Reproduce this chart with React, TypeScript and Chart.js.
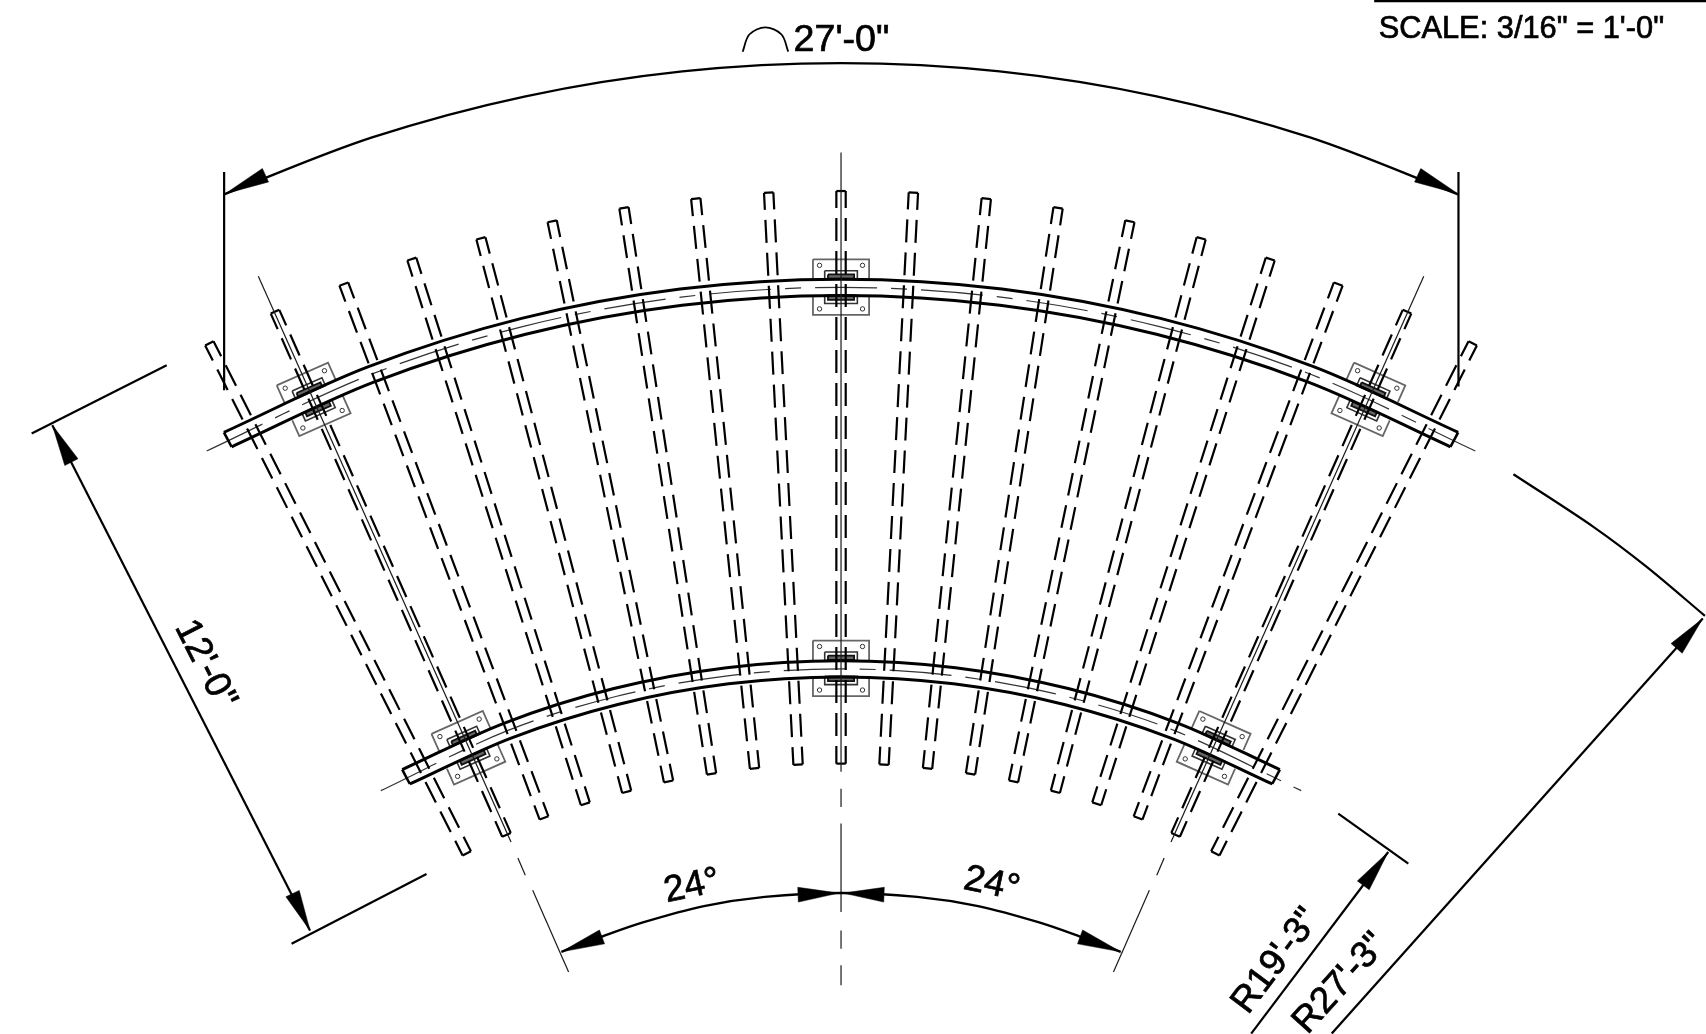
import React, { useEffect, useRef } from "react";
import { Chart, registerables } from "chart.js";

Chart.register(...registerables);

// Drawing values (axis units: 1568 x 950 picture grid)
const memberTopX = [192.4, 252.8, 316, 378.5, 442, 507.5, 573.5, 639.5, 706.5, 773, 839.5, 906.5, 972.5, 1038.5, 1104, 1167.5, 1230, 1293.2, 1353.6];
const memberTopY = [315.4, 286.4, 261, 238, 219, 203.3, 191, 182.5, 177, 175.5, 177, 182.5, 191, 203.3, 219, 238, 261, 286.4, 315.4];
const memberBottomX = [429, 465.5, 500, 538, 576, 614.5, 654, 693.5, 733.5, 773, 812.5, 852.5, 892, 931.5, 970, 1008, 1046, 1080.5, 1117];
const memberBottomY = [784, 767, 751.5, 738.5, 727.5, 718, 711, 706, 702.5, 701.6, 702.5, 706, 711, 718, 727.5, 738.5, 751.5, 767, 784];

const upperRailTopX = [205.8, 338.1, 479.4, 625.1, 773, 920.9, 1066.6, 1207.9, 1340.2];
const upperRailTopY = [397.2, 337.1, 292.5, 265.5, 256.5, 265.5, 292.5, 337.1, 397.2];
const upperRailBottomX = [212.9, 343.5, 483.1, 626.9, 773, 919.1, 1062.9, 1202.5, 1333.1];
const upperRailBottomY = [410.5, 351.1, 307.1, 280.4, 271.5, 280.4, 307.1, 351.1, 410.5];
const upperRailAxisX = [190, 340.8, 481.2, 626, 773, 920, 1064.8, 1205.2, 1356];
const upperRailAxisY = [414.3, 344.1, 299.8, 273, 264, 273, 299.8, 344.1, 414.3];

const lowerRailTopX = [369.7, 463.7, 564.2, 667.8, 773, 878.2, 981.8, 1082.3, 1176.3];
const lowerRailTopY = [707.1, 664.3, 632.6, 613.4, 607, 613.4, 632.6, 664.3, 707.1];
const lowerRailBottomX = [376.7, 469.1, 567.8, 669.7, 773, 876.3, 978.2, 1076.9, 1169.3];
const lowerRailBottomY = [720.3, 678.3, 647.2, 628.3, 622, 628.3, 647.2, 678.3, 720.3];
const lowerRailAxisX = [350, 466.4, 566, 668.7, 773, 877.3, 980, 1079.6, 1196];
const lowerRailAxisY = [726.4, 671.3, 639.9, 620.9, 614.5, 620.9, 639.9, 671.3, 726.4];

const plateX = [288.3, 773, 1257.7, 430.5, 773, 1115.5];
const plateY = [366.9, 263.8, 366.9, 687, 614, 687];
const plateAngle = [-24, 0, 24, -24, 0, 24];

const arcDimX = [206, 342, 483, 627.2, 773, 918.8, 1063, 1204, 1340];
const arcDimY = [178.6, 126.3, 88.5, 65.6, 58, 65.6, 88.5, 126.3, 178.6];
const angleDimX = [516, 553.3, 590.9, 647, 703, 773, 843, 899, 955.1, 992.7, 1030];
const angleDimY = [874.5, 860.5, 847.5, 832.5, 824, 820.5, 824, 832.5, 847.5, 860.5, 874.5];
const radiusTickX = [1391, 1464.5, 1513.5, 1567];
const radiusTickY = [435.7, 484, 520.8, 565.8];
const arcSymbolX = [682.6, 688.7, 703.3, 718.3, 724.5];
const arcSymbolY = [47.5, 31.7, 25.1, 31.7, 47.5];

// [x1, y1, x2, y2]
const dimensionLines = [
  [206, 158, 206, 358.5],
  [1340.5, 158, 1340.5, 355],
  [29.1, 398.3, 153.2, 335.5],
  [268, 867, 392, 803],
  [48.1, 390.6, 284.9, 854.8],
  [1230, 747.5, 1294.4, 793.5],
  [1275.9, 782.8, 1150, 949.6],
  [1565, 568.3, 1224, 949.6],
  [1263, 1, 1568, 1],
];
const thinLines = [
  [773, 140, 773, 709],
  [773, 724.6, 773, 741.4],
  [773, 756.7, 773, 837.9],
  [773, 854.8, 773, 871.6],
  [773, 886.9, 773, 905.3],
  [237.4, 253.7, 469.7, 773.6],
  [476, 788.3, 482.8, 804.2],
  [489.6, 818, 522.6, 893],
  [1308.6, 253.7, 1076.3, 773.6],
  [1070, 788.3, 1063.2, 804.2],
  [1056.4, 818, 1023.4, 893],
];

const arrowTipX = [207, 1340, 48.1, 284.9, 1275.9, 1565, 516, 771, 775, 1030];
const arrowTipY = [178, 178, 390.6, 854.8, 782.8, 568.3, 874.5, 820.5, 820.5, 874.5];
const arrowBaseX = [244, 1303, 65.6, 268.9, 1253, 1541, 553.3, 733.5, 812.5, 992.7];
const arrowBaseY = [161, 161, 424.6, 821, 813.4, 595.7, 860.8, 822, 822, 860.8];

const labelText = ["27'-0\"", "SCALE: 3/16\" = 1'-0\"", "12'-0\"", "24°", "24°", "R19'-3\"", "R27'-3\""];
const labelX = [773.4, 1398.3, 188.5, 636, 911.5, 1173, 1232];
const labelY = [37, 27.5, 610.5, 814.4, 812.5, 883, 903.6];
const labelAngle = [0, 0, 63, -12, 12, -53, -48];
const labelPx = [37.6, 30.8, 37, 37, 37, 37, 37];

const X_MAX = 1568;
const Y_MAX = 950;
const INK = "#000000";

type P = { x: number; y: number };
const zip = (xs: number[], ys: number[]): P[] => xs.map((x, i) => ({ x, y: ys[i] }));
const seg = (s: number[]): P[] => [{ x: s[0], y: s[1] }, { x: s[2], y: s[3] }];

function line(data: P[], o: any = {}) {
  return {
    data,
    showLine: true,
    pointRadius: 0,
    borderColor: o.color ?? INK,
    borderWidth: o.width ?? 2,
    borderDash: o.dash ?? [],
    borderDashOffset: o.offset ?? 0,
    tension: o.tension ?? 0,
    fill: o.bg ? "shape" : false,
    backgroundColor: o.bg ?? "transparent",
    borderCapStyle: "butt",
    borderJoinStyle: "miter",
  };
}

function local(i: number, u: number, v: number): P {
  const a = (plateAngle[i] * Math.PI) / 180;
  return {
    x: plateX[i] + u * Math.cos(a) - v * Math.sin(a),
    y: plateY[i] + u * Math.sin(a) + v * Math.cos(a),
  };
}
function localRect(i: number, u1: number, v1: number, u2: number, v2: number): P[] {
  return [local(i, u1, v1), local(i, u2, v1), local(i, u2, v2), local(i, u1, v2), local(i, u1, v1)];
}

function buildDatasets() {
  const back: any[] = [];
  const tension = 0.33;

  // plates
  plateX.forEach((_, i) => {
    back.push(line(localRect(i, -25.8, -25.5, 25.8, 25.5), { color: "#666666", width: 1.8 }));
    back.push({
      data: [local(i, -19.75, -20), local(i, 19.75, -20), local(i, -19.75, 20), local(i, 19.75, 20)],
      showLine: false,
      pointRadius: 2.2,
      pointBackgroundColor: "#ffffff",
      pointBorderColor: "#333333",
      pointBorderWidth: 1,
    });
  });

  // white rail bodies
  const body = (tx: number[], ty: number[], bx: number[], by: number[]) =>
    line([...zip(tx, ty), ...zip(bx, by).reverse(), { x: tx[0], y: ty[0] }], {
      color: "transparent",
      width: 0,
      bg: "#ffffff",
      tension,
    });
  back.push(body(upperRailTopX, upperRailTopY, upperRailBottomX, upperRailBottomY));
  back.push(body(lowerRailTopX, lowerRailTopY, lowerRailBottomX, lowerRailBottomY));

  // clips
  plateX.forEach((_, i) => {
    back.push(line(localRect(i, -15, -15, 15, -7.2), { color: "#333333", width: 1.6 }));
    back.push(line(localRect(i, -12, -11.7, 12, -7.7), { color: "#111111", width: 1.8, bg: "#666666" }));
    back.push(line(localRect(i, -15, 7.4, 15, 15), { color: "#333333", width: 1.6 }));
    back.push(line(localRect(i, -12, 7.6, 12, 11.8), { color: "#111111", width: 1.8, bg: "#666666" }));
  });

  // rail axes (long-short)
  back.push(line(zip(upperRailAxisX, upperRailAxisY), { color: "#333333", width: 1.2, dash: [62, 14, 16, 14], tension }));
  back.push(line(zip(lowerRailAxisX, lowerRailAxisY), { color: "#333333", width: 1.2, dash: [62, 14, 16, 14], tension }));

  // rail edges and end caps
  const rail = (tx: number[], ty: number[], bx: number[], by: number[]) => {
    back.push(line(zip(tx, ty), { width: 3, tension }));
    back.push(line(zip(bx, by), { width: 3, tension }));
    const last = tx.length - 1;
    back.push(line(seg([tx[0], ty[0], bx[0], by[0]]), { width: 2.6 }));
    back.push(line(seg([tx[last], ty[last], bx[last], by[last]]), { width: 2.6 }));
  };
  rail(upperRailTopX, upperRailTopY, upperRailBottomX, upperRailBottomY);
  rail(lowerRailTopX, lowerRailTopY, lowerRailBottomX, lowerRailBottomY);

  // dashed members
  const half = 4.3;
  memberTopX.forEach((tx, i) => {
    const ty = memberTopY[i];
    const bx = memberBottomX[i];
    const by = memberBottomY[i];
    const len = Math.hypot(bx - tx, by - ty);
    const nx = ((by - ty) / len) * half;
    const ny = (-(bx - tx) / len) * half;
    const dash = { width: 2.2, dash: [23, 10], offset: 6 };
    back.push(line(seg([tx - nx, ty - ny, bx - nx, by - ny]), dash));
    back.push(line(seg([tx + nx, ty + ny, bx + nx, by + ny]), dash));
    back.push(line(seg([tx - nx, ty - ny, tx + nx, ty + ny]), { width: 2.2 }));
    back.push(line(seg([bx - nx, by - ny, bx + nx, by + ny]), { width: 2.2 }));
  });

  // thin centre lines
  thinLines.forEach((s) => back.push(line(seg(s), { color: "#1a1a1a", width: 1.2 })));

  // dimensions
  dimensionLines.forEach((s) => back.push(line(seg(s), { width: 2.2 })));
  back.push(line(zip(arcDimX, arcDimY), { width: 2.4, tension }));
  back.push(line(zip(angleDimX, angleDimY), { width: 2.4, tension }));
  back.push(line(zip(radiusTickX, radiusTickY), { width: 2.2, tension }));
  back.push(line(zip(arcSymbolX, arcSymbolY), { width: 1.8, tension }));

  // arrowheads
  const headHalf = 6.8;
  arrowTipX.forEach((tx, i) => {
    const ty = arrowTipY[i];
    const bx = arrowBaseX[i];
    const by = arrowBaseY[i];
    const len = Math.hypot(bx - tx, by - ty);
    const nx = ((by - ty) / len) * headHalf;
    const ny = (-(bx - tx) / len) * headHalf;
    back.push(
      line(
        [
          { x: tx, y: ty },
          { x: bx + nx, y: by + ny },
          { x: bx - nx, y: by - ny },
          { x: tx, y: ty },
        ],
        { width: 0.5, bg: INK }
      )
    );
  });

  // Chart.js paints the first dataset last, so reverse back-to-front order.
  return back.reverse();
}

const labelsPlugin = {
  id: "drawingLabels",
  afterDatasetsDraw(chart: any) {
    const { ctx, scales } = chart;
    labelText.forEach((text, i) => {
      ctx.save();
      ctx.translate(scales.x.getPixelForValue(labelX[i]), scales.y.getPixelForValue(labelY[i]));
      ctx.rotate((labelAngle[i] * Math.PI) / 180);
      ctx.font = `${labelPx[i]}px "Liberation Sans", Arial, sans-serif`;
      ctx.fillStyle = INK;
      ctx.strokeStyle = INK;
      ctx.lineWidth = 0.7;
      ctx.textAlign = "center";
      ctx.textBaseline = "middle";
      ctx.fillText(text, 0, 0);
      ctx.strokeText(text, 0, 0);
      ctx.restore();
    });
  },
};

export default function App() {
  const ref = useRef<HTMLCanvasElement | null>(null);
  useEffect(() => {
    if (!ref.current) return;
    const chart = new Chart(ref.current, {
      type: "scatter",
      data: { datasets: buildDatasets() },
      options: {
        animation: false,
        responsive: false,
        devicePixelRatio: 1,
        layout: { padding: 0, autoPadding: false },
        plugins: { legend: { display: false }, tooltip: { enabled: false }, title: { display: false } },
        events: [],
        scales: {
          x: { type: "linear", min: 0, max: X_MAX, display: false },
          y: { type: "linear", min: 0, max: Y_MAX, reverse: true, display: false },
        },
      },
      plugins: [labelsPlugin],
    } as any);
    return () => chart.destroy();
  }, []);
  return (
    <div style={{ position: "fixed", left: 0, top: 0, width: 1706, height: 1034, background: "#ffffff" }}>
      <canvas ref={ref} width={1706} height={1034} style={{ display: "block", width: 1706, height: 1034 }} />
    </div>
  );
}
